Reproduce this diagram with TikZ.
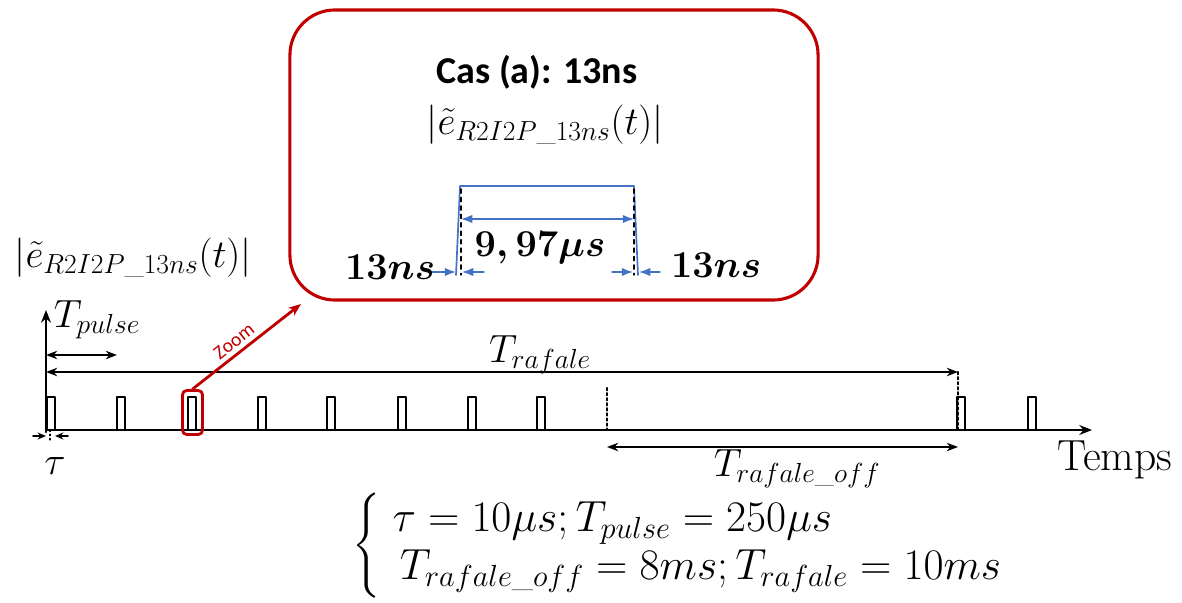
\RequirePackage{fix-cm}
\documentclass[tikz,border=0pt]{standalone}
\usepackage{amsmath}
\usepackage{fontspec}
\newfontfamily\casfont{Carlito}
\usetikzlibrary{arrows.meta}
\definecolor{zoomred}{RGB}{192,0,0}
\definecolor{pulseblue}{RGB}{68,114,196}
\tikzset{
  axis/.style={line width=1.8pt,-{Stealth[length=9pt,width=7pt]}},
  dimarrow/.style={line width=1.6pt,{Stealth[length=8pt,width=6pt]}-{Stealth[length=8pt,width=6pt]}},
  pulse/.style={line width=2pt},
  bluedim/.style={pulseblue,line width=1pt,{Latex[length=8pt,width=6pt]}-{Latex[length=8pt,width=6pt]}},
  bluetip/.style={pulseblue,line width=1pt,-{Latex[length=8pt,width=6pt]}},
  zoomframe/.style={draw=zoomred,line width=2.2pt,rounded corners=32pt},
  lbl/.style={font=\fontsize{28}{32}\selectfont,inner sep=0pt},
}
\begin{document}
\begin{tikzpicture}[x=0.025cm,y=-0.025cm,line join=round,line cap=round]
  \useasboundingbox (0,0) rectangle (1182,603);
  % zoomed pulse
  \node[zoomframe,minimum width=13.2cm,minimum height=7.25cm] (frame) at (554,155) {};
  \node[font=\casfont\bfseries\fontsize{27}{30}\selectfont] (cas) at (537,72) {Cas (a): 13ns};
  \node[lbl] (efrm) at (545,125) {$\left|\tilde{e}_{R2I2P\_13ns}(t)\right|$};
  \coordinate (P1) at (456,275);
  \coordinate (P2) at (460,186);
  \coordinate (P3) at (634,186);
  \coordinate (P4) at (638,275);
  \draw[pulseblue,line width=1.2pt] (P1) -- (P2) -- (P3) -- (P4);
  \draw[dashed,line width=1pt] (461,189) coordinate (D1) -- (461,275) coordinate (D2);
  \draw[dashed,line width=1pt] (634,189) coordinate (D3) -- (634,275) coordinate (D4);
  \draw[bluedim] (461,219) -- (634,219);
  \node[lbl,font=\fontsize{27}{30}\selectfont] (dur) at (540,248) {$\boldsymbol{9{,}\,97\mu s}$};
  \draw[bluetip] (432,272) -- (456,272);
  \draw[bluetip] (484,272) -- (462,272);
  \draw[bluetip] (612,272) -- (633,272);
  \draw[bluetip] (660,272) -- (639,272);
  \node[lbl,font=\fontsize{27}{30}\selectfont] (riseL) at (390,267) {$\boldsymbol{13ns}$};
  \node[lbl,font=\fontsize{27}{30}\selectfont] (riseR) at (716,265) {$\boldsymbol{13ns}$};
  % train of pulses
  \node[lbl] (etrain) at (133,258) {$\left|\tilde{e}_{R2I2P\_13ns}(t)\right|$};
  \coordinate (O) at (46,430);
  \draw[axis] (46,432) -- (46,310);
  \draw[axis] (O) -- (1092,430);
  \node[lbl,font=\fontsize{31}{34}\selectfont] (temps) at (1115,460) {Temps};
  \node[lbl] (tpulse) at (97,320) {$T_{pulse}$};
  \draw[dimarrow] (46,355) -- (117,355);
  \draw[dimarrow] (46,372) -- (958,372);
  \node[lbl] (traf) at (540,355) {$T_{rafale}$};
  \draw[dotted,line width=1.6pt] (958,372) -- (958,430);
  \draw[dotted,line width=1.6pt] (607,388) -- (607,430);
  \draw[dimarrow] (607,447) -- (958,447);
  \node[lbl] (trafoff) at (797,469) {$T_{rafale\_off}$};
  \foreach \px in {51,121,192,262,331,402,472,541,961,1032}
    \draw[pulse] (\px-4,430) rectangle (\px+4,397);
  \draw[line width=1.2pt,-{Stealth[length=6pt,width=5pt]}] (33,436) -- (46,436);
  \draw[line width=1.2pt,-{Stealth[length=6pt,width=5pt]}] (68,436) -- (55,436);
  \draw[dotted,line width=1pt] (50,430) -- (50,442);
  \node[lbl] (tau) at (55,466) {$\tau$};
  % zoom selection
  \node[draw=zoomred,line width=2pt,rounded corners=3pt,minimum width=0.5cm,minimum height=1.1cm] (zoomsel) at (192.5,412.5) {};
  \coordinate (zoomtip) at (301,304);
  \draw[zoomred,line width=2pt,-{Stealth[length=9pt,width=7pt]}] (zoomsel.north) -- (zoomtip)
    node[pos=0.45,sloped,above=2pt,inner sep=1pt,font=\casfont\fontsize{14}{16}\selectfont] (zoomlbl) {Zoom};
  % parameters
  \node[lbl,anchor=west,font=\fontsize{31}{34}\selectfont] (params) at (352,546) {$\left\{\begin{array}{@{}l}
    \;\tau = 10\mu s; T_{pulse} = 250\mu s\\
    \;\,T_{rafale\_off} = 8ms; T_{rafale} = 10ms
  \end{array}\right.$};
\end{tikzpicture}
\end{document}
